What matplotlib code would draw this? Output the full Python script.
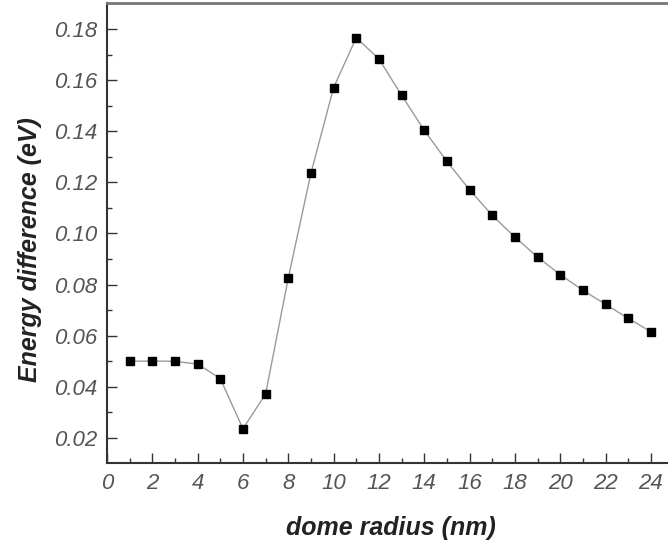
import numpy as np
import matplotlib.pyplot as plt

radius = [1, 2, 3, 4, 5, 6, 7, 8, 9, 10, 11, 12, 13, 14, 15, 16, 17, 18, 19, 20, 21, 22, 23, 24]
energy = [0.0500, 0.0501, 0.0500, 0.0489, 0.0432, 0.0236, 0.0372, 0.0826, 0.1236, 0.1571,
          0.1766, 0.1683, 0.1541, 0.1404, 0.1282, 0.1171, 0.1071, 0.0986, 0.0908, 0.0839,
          0.0778, 0.0723, 0.0668, 0.0616]

plt.rcParams['font.family'] = 'Liberation Sans'

fig = plt.figure(figsize=(6.68, 5.46), dpi=100)
ax = fig.add_axes([0.1602, 0.1511, 0.848, 0.8425])

ax.plot(radius, energy, color='#9a9a9a', lw=1.0, zorder=1)
ax.plot(radius, energy, ls='none', marker='s', ms=5.6, color='black', zorder=2)

ax.set_xlim(0, 25)
ax.set_ylim(0.01, 0.19)
ax.set_xticks(np.arange(0, 25, 2))
ax.set_xticks(np.arange(1, 25, 2), minor=True)
ax.set_yticks(np.arange(0.02, 0.181, 0.02))
ax.set_yticks(np.arange(0.03, 0.19, 0.02), minor=True)
ax.set_yticklabels(['%.2f' % v for v in np.arange(0.02, 0.181, 0.02)])

ax.tick_params(which='major', direction='in', length=7, width=1.0, color='#333333',
               labelsize=16, labelcolor='#555555', pad=7)
ax.tick_params(which='minor', direction='in', length=3.5, width=1.0, color='#333333')
for lab in ax.get_xticklabels() + ax.get_yticklabels():
    lab.set_fontstyle('italic')

for s in ax.spines.values():
    s.set_linewidth(1.5)
    s.set_color('#333333')
ax.spines['top'].set_color('#777777')
ax.spines['top'].set_linewidth(2)

ax.set_xlabel('dome radius (nm)', fontsize=18, fontweight='bold', fontstyle='italic',
              color='#222222')
ax.set_ylabel('Energy difference (eV)', fontsize=18, fontweight='bold', fontstyle='italic',
              color='#222222')
ax.xaxis.set_label_coords(0.501, -0.140)
ax.yaxis.set_label_coords(-0.136, 0.464)
ax.xaxis.label.set_va('center')
ax.yaxis.label.set_va('center')

fig.savefig('out.png', dpi=100)
